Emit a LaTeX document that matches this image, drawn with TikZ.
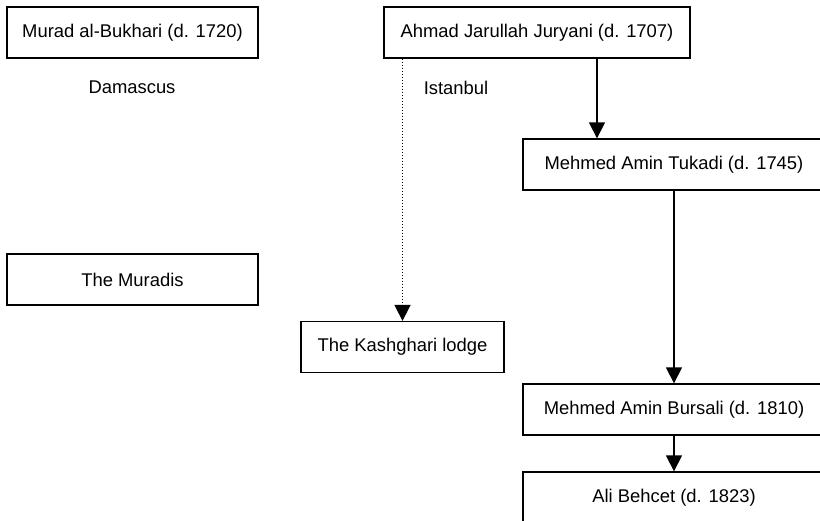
\documentclass[tikz,border=0pt]{standalone}
\usepackage{fontspec}
\setmainfont{Liberation Sans}
\usetikzlibrary{arrows.meta}
\begin{document}
\begin{tikzpicture}[x=1pt,y=-1pt,
  every node/.style={font=\fontsize{18.4}{22}\selectfont},
  person/.style={draw, line width=1.3pt, minimum height=51pt, inner sep=0pt, anchor=center},
  place/.style={inner sep=0pt},
  link/.style={line width=1.3pt, -{Triangle[length=16pt,width=16pt]}},
  route/.style={line width=1.6pt, dash pattern=on 1.5pt off 1.5pt, -{Triangle[length=16pt,width=16pt]}}]
  \useasboundingbox (0,0) rectangle (820,520);
  \fill[white] (0,0) rectangle (820,520);
  \clip (0,0) rectangle (820,520);

  % lineage boxes
  \node[person, minimum width=251pt] (murad) at (132.5,32.5) {Murad al-Bukhari (d. 1720)};
  \node[person, minimum width=306pt] (ahmad) at (537,32.5) {Ahmad Jarullah Juryani (d. 1707)};
  \node[person, minimum width=302pt] (tukadi) at (674,164.5) {Mehmed Amin Tukadi (d. 1745)};
  \node[person, minimum width=251pt] (muradis) at (132.5,279.5) {The Muradis};
  \node[person, minimum width=203pt] (lodge) at (402.5,347) {The Kashghari lodge};
  \node[person, minimum width=302pt] (bursali) at (674,409.5) {Mehmed Amin Bursali (d. 1810)};
  \node[person, minimum width=302pt] (behcet) at (674,497.5) {Ali Behcet (d. 1823)};

  % places
  \node[place] (damascus) at (132,87) {Damascus};
  \node[place] (istanbul) at (456,88) {Istanbul};

  % connectors
  \coordinate (tx) at (597,0);
  \draw[link] (ahmad.south -| tx) -- (tukadi.north -| tx);
  \draw[route] (ahmad.south -| lodge.north) -- (lodge.north);
  \draw[link] (tukadi.south) -- (bursali.north);
  \draw[link] (bursali.south) -- (behcet.north);
\end{tikzpicture}
\end{document}
